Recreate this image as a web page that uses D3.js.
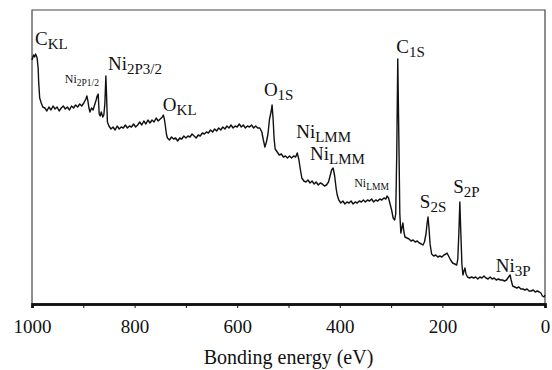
<!DOCTYPE html>
<html><head><meta charset="utf-8">
<script src="https://cdn.jsdelivr.net/npm/d3@7"></script>
<style>
html,body{margin:0;padding:0;background:#fff;}
svg{display:block;}
svg text{font-family:"Liberation Serif","Times New Roman","DejaVu Serif",serif !important;fill:#111;}
</style></head>
<body>
<svg id="chart" width="552" height="370"></svg>
<script>
// XPS survey spectrum: [binding energy (eV), intensity (a.u.)]
const spectrum = [
[1000,244],[997,249],[995,247],[993,250],[990,246],[988,236],[987,222],[985,206],[982,201],[979,197],
[975,196],[971,193],[967,197],[963,194],[959,198],[955,195],[951,197],[947,193],[943,196],[939,198],
[935,195],[931,197],[927,194],[923,198],[919,196],[915,199],[911,197],[907,200],[903,198],[899,201],
[895,205],[893,208],[891,203],[889,196],[887,192],[884,196],[881,194],[878,199],[875,204],[873,208],
[871,210],[869,190],[867,188],[865,192],[862,187],[860,189],[858,200],[856,228],[855,214],[853,182],
[850,178],[846,175],[842,177],[838,174],[834,178],[830,175],[826,177],[822,176],[818,179],[814,176],
[810,178],[806,177],[802,180],[798,177],[794,179],[790,182],[786,179],[782,183],[778,180],[774,184],
[770,181],[766,184],[762,182],[758,186],[754,183],[750,185],[746,187],[744,189],[742,185],[740,178],
[738,170],[736,166],[732,164],[728,167],[724,165],[720,166],[716,163],[712,166],[708,165],[704,168],
[700,166],[696,168],[692,167],[688,170],[684,168],[680,166],[676,169],[672,168],[668,171],[664,170],
[660,172],[656,171],[652,174],[648,172],[644,175],[640,173],[636,176],[632,174],[628,177],[624,175],
[620,178],[616,176],[612,179],[608,176],[604,178],[600,177],[596,180],[592,177],[588,179],[584,176],
[580,178],[576,177],[572,179],[568,176],[564,178],[560,176],[556,176],[552,172],[549,164],[546,157],
[543,162],[540,170],[537,185],[534,192],[532,199],[530,185],[528,165],[526,155],[522,152],[518,149],
[514,150],[510,147],[506,148],[502,146],[498,148],[494,146],[490,148],[486,147],[483,151],[480,145],
[477,135],[474,126],[470,123],[466,122],[462,124],[458,121],[454,123],[450,120],[446,122],[442,119],
[438,121],[434,120],[430,118],[426,119],[422,122],[419,128],[416,134],[413,136],[410,128],[407,115],
[405,109],[402,104],[398,101],[394,103],[390,100],[386,102],[382,101],[378,103],[374,100],[370,102],
[366,101],[362,103],[358,102],[354,104],[350,102],[346,104],[342,103],[338,105],[334,102],[330,104],
[326,103],[322,105],[318,104],[314,106],[310,105],[308,108],[305,106],[302,100],[299,94],[296,86],
[293,84],[291,90],[289,150],[287,245],[285,170],[283,90],[281,71],[279,76],[277,81],[275,72],
[273,67],[269,66],[265,65],[261,63],[257,64],[253,62],[249,63],[245,61],[241,60],[238,59],
[235,62],[232,70],[230,80],[228,87],[226,75],[224,60],[221,50],[217,48],[213,49],[209,47],
[205,48],[201,47],[197,49],[193,50],[191,51],[188,48],[184,44],[180,41],[176,40],[172,39],
[170,45],[168,70],[166,102],[164,70],[162,40],[160,29],[158,33],[156,36],[154,30],[151,27],
[147,26],[143,27],[139,26],[135,27],[131,25],[127,27],[123,26],[119,28],[115,26],[111,25],
[107,27],[103,25],[99,26],[95,24],[91,25],[87,24],[83,24],[79,23],[75,24],[71,27],
[68,29],[66,24],[63,18],[59,17],[55,16],[51,17],[47,15],[43,15],[39,14],[35,15],
[31,13],[27,13],[23,14],[19,12],[15,13],[11,12],[8,11],[5,8],[2,7],[0,9]
];
const majorTicks = [1000, 800, 600, 400, 200, 0];
const minorTicks = [900, 700, 500, 300, 100];
const xTitle = "Bonding energy (eV)";
// peak labels: element, subscript, label anchor (energy, intensity), size class
const peakLabels = [
  {main:"C",  sub:"KL",    e:994, i:259, small:false},
  {main:"Ni", sub:"2P1/2", e:936, i:221, small:true},
  {main:"Ni", sub:"2P3/2", e:852, i:234, small:false},
  {main:"O",  sub:"KL",    e:745, i:193, small:false},
  {main:"O",  sub:"1S",    e:548, i:208, small:false},
  {main:"Ni", sub:"LMM",   e:485, i:166, small:false},
  {main:"Ni", sub:"LMM",   e:458, i:144, small:false},
  {main:"Ni", sub:"LMM",   e:372, i:117, small:true},
  {main:"C",  sub:"1S",    e:290, i:251, small:false},
  {main:"S",  sub:"2S",    e:244, i:96,  small:false},
  {main:"S",  sub:"2P",    e:179, i:111, small:false},
  {main:"Ni", sub:"3P",    e:96,  i:32,  small:false}
];

const W = 552, H = 370;
const m = {left:32, right:7, top:10, bottom:66};
const FONT = "'Liberation Serif','Times New Roman',serif";
const svg = d3.select("#chart");
const x = d3.scaleLinear().domain([1000, 0]).range([m.left, W - m.right]);
const y = d3.scaleLinear().domain([0, 294]).range([H - m.bottom, m.top]);

// frame (left, top, right)
svg.append("path")
  .attr("d", `M${x(1000)},${y(0)}V${y(294)}H${x(0)}V${y(0)}`)
  .attr("fill","none").attr("stroke","#444").attr("stroke-width",1.2);

// spectrum
svg.append("path").datum(spectrum)
  .attr("fill","none").attr("stroke","#111").attr("stroke-width",1.4)
  .attr("stroke-linejoin","round")
  .attr("d", d3.line().x(d => x(d[0])).y(d => y(d[1])));

// x axis
const gx = svg.append("g").attr("transform",`translate(0,${y(0)})`);
gx.call(d3.axisBottom(x).tickValues(majorTicks).tickSize(4).tickPadding(12).tickFormat(d3.format("d")));
gx.append("g").call(d3.axisBottom(x).tickValues(minorTicks).tickSize(4).tickFormat(""));
gx.attr("font-family", FONT);
gx.selectAll(".domain").attr("stroke","#111").attr("stroke-width",2.4);
gx.selectAll(".tick line").attr("stroke","#111").attr("stroke-width",1);
gx.selectAll(".tick text").attr("font-size",19).style("font-family",FONT).attr("fill","#111");

svg.append("text").attr("x", (x(1000)+x(0))/2).attr("y", 364)
  .style("font-family",FONT)
  .attr("text-anchor","middle").attr("font-size",20).text(xTitle);

// peak labels
peakLabels.forEach(p => {
  const t = svg.append("text").attr("x", x(p.e)).attr("y", y(p.i))
    .style("font-family",FONT)
    .attr("font-size", p.small ? 12 : 19);
  t.append("tspan").text(p.main);
  t.append("tspan").attr("dy", p.small ? 3 : 3.5).attr("font-size", p.small ? 9.5 : 15).text(p.sub);
});
</script>
</body></html>
